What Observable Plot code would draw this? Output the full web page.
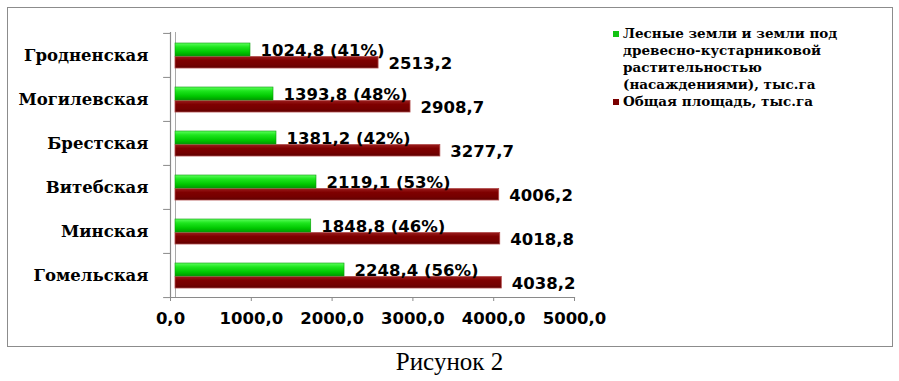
<!DOCTYPE html>
<html>
<head>
<meta charset="utf-8">
<script src="https://cdn.jsdelivr.net/npm/d3@7"></script>
<script src="https://cdn.jsdelivr.net/npm/@observablehq/plot@0.6"></script>
<style>
  html, body { margin: 0; padding: 0; background: #fff; }
  #wrap { position: relative; width: 899px; height: 381px; overflow: hidden; background: #fff; }
  #border { position: absolute; left: 7px; top: 7px; width: 886px; height: 340px; box-sizing: border-box; border: 1.5px solid #8c8c8c; }
  #chart { position: absolute; left: 0; top: 0; }
  #legend { position: absolute; left: 623px; top: 24.5px; font-family: "DejaVu Serif", serif; font-weight: bold; font-size: 13.5px; line-height: 17px; color: #000; white-space: nowrap; }
  .item { position: relative; }
  .sw { position: absolute; left: -10px; width: 6px; height: 6px; top: 6px; }
  #caption { position: absolute; left: 0; width: 899px; top: 349px; text-align: center; font-family: "Liberation Serif", "Times New Roman", serif; font-size: 25px; line-height: 25px; color: #000; }
</style>
</head>
<body>
<div id="wrap">
  <div id="border"></div>
  <div id="chart"></div>
  <div id="legend"></div>
  <div id="caption">Рисунок 2</div>
</div>
<script>
// ---- data ----
const regions = ["Гродненская", "Могилевская", "Брестская", "Витебская", "Минская", "Гомельская"];
const totalArea = [2513.2, 2908.7, 3277.7, 4006.2, 4018.8, 4038.2];          // Общая площадь, тыс.га
const forestArea = [1024.8, 1393.8, 1381.2, 2119.1, 1848.8, 2248.4];         // values printed in labels
const forestShare = [41, 48, 42, 53, 46, 56];                                // % printed in labels
const forestBarLength = [928, 1213, 1250, 1745, 1680, 2092];                 // green bar lengths as drawn
const xTicks = [0, 1000, 2000, 3000, 4000, 5000];
const seriesNames = [
  ["Лесные земли и земли под", "древесно-кустарниковой", "растительностью", "(насаждениями), тыс.га"],
  ["Общая площадь, тыс.га"]
];
const seriesColors = ["#13c313", "#7a0000"];

const fmt = v => v.toFixed(1).replace(".", ",");
const rows = regions.map((r, i) => ({
  region: r,
  total: totalArea[i],
  forestBar: forestBarLength[i],
  forestLabel: `${fmt(forestArea[i])} (${forestShare[i]}%)`,
  totalLabel: fmt(totalArea[i])
}));

const W = 899, H = 352, mT = 32, mB = 55, mL = 170, mR = 325;
const BAND = (H - mT - mB) / regions.length;
const DEPTH = 5;
const sans = "DejaVu Sans, Verdana, sans-serif";
const serif = "DejaVu Serif, serif";

const chart = Plot.plot({
  width: W, height: H,
  marginTop: mT, marginBottom: mB, marginLeft: mL, marginRight: mR,
  style: { background: "transparent", color: "#000", overflow: "visible" },
  x: { domain: [0, 5000] },
  y: { domain: regions, padding: 0 },
  marks: [
    // back wall line (3D depth)
    Plot.ruleX([0], { dx: DEPTH, stroke: "#a8a8a8", strokeWidth: 1 }),
    Plot.ruleX([0], { stroke: "#8a8a8a", strokeWidth: 1.2 }),
    Plot.frame({ anchor: "bottom", stroke: "#8a8a8a", strokeWidth: 1.2 }),
    // category boundary ticks
    Plot.ruleY(regions, { y: d => d, x1: -85, x2: 0, dy: -BAND / 2, stroke: "#8a8a8a" }),
    Plot.ruleY(regions.slice(-1), { y: d => d, x1: -85, x2: 0, dy: BAND / 2, stroke: "#8a8a8a" }),
    // bars
    Plot.barX(rows, { x: "total", y: "region", dx: DEPTH, insetTop: 23.5, insetBottom: 9,
      fill: "url(#gradRed)", stroke: "#b04a4a", strokeWidth: 0.8 }),
    Plot.barX(rows, { x: "forestBar", y: "region", dx: DEPTH, insetTop: 10, insetBottom: 21,
      fill: "url(#gradGreen)", stroke: "#0a9a0a", strokeWidth: 0.6 }),
    // value labels
    Plot.text(rows, { x: "forestBar", y: "region", text: "forestLabel", dx: DEPTH + 10, dy: -5,
      textAnchor: "start", fontFamily: sans, fontWeight: "bold", fontSize: 16.5, fill: "#000" }),
    Plot.text(rows, { x: "total", y: "region", text: "totalLabel", dx: DEPTH + 10, dy: 8,
      textAnchor: "start", fontFamily: sans, fontWeight: "bold", fontSize: 16.5, fill: "#000" }),
    // axes
    Plot.axisX({ ticks: xTicks, tickFormat: fmt, tickSize: 4, tickPadding: 11, stroke: "#8a8a8a",
      fontFamily: sans, fontWeight: "bold", fontSize: 16.5, fill: "#000", label: null }),
    Plot.axisY({ tickSize: 0, tickPadding: 22, fontFamily: serif, fontWeight: "bold", fontSize: 16.5,
      fill: "#000", label: null })
  ]
});

// gradients for the bars
const defs = d3.select(chart).insert("defs", ":first-child");
const g1 = defs.append("linearGradient").attr("id", "gradGreen").attr("x1", 0).attr("y1", 0).attr("x2", 0).attr("y2", 1);
[[0, "#5cff5c"], [0.3, "#1ee61e"], [0.7, "#00c800"], [1, "#009a00"]].forEach(([o, c]) =>
  g1.append("stop").attr("offset", o).attr("stop-color", c));
const g2 = defs.append("linearGradient").attr("id", "gradRed").attr("x1", 0).attr("y1", 0).attr("x2", 0).attr("y2", 1);
[[0, "#9a1c1c"], [0.35, "#7e0000"], [0.75, "#740000"], [1, "#5a0000"]].forEach(([o, c]) =>
  g2.append("stop").attr("offset", o).attr("stop-color", c));

document.getElementById("chart").appendChild(chart);

// legend
const legend = document.getElementById("legend");
seriesNames.forEach((lines, i) => {
  const item = document.createElement("div");
  item.className = "item";
  const sw = document.createElement("span");
  sw.className = "sw";
  sw.style.background = seriesColors[i];
  item.appendChild(sw);
  lines.forEach((t, j) => {
    if (j) item.appendChild(document.createElement("br"));
    item.appendChild(document.createTextNode(t));
  });
  legend.appendChild(item);
});
</script>
</body>
</html>
